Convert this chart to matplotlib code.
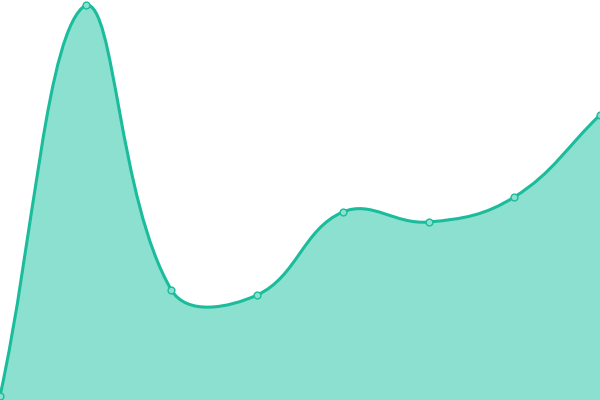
import numpy as np
import matplotlib
matplotlib.use("Agg")
import matplotlib.pyplot as plt
from matplotlib.path import Path
from matplotlib.patches import PathPatch
from matplotlib.transforms import IdentityTransform

LINE_COLOR = "#1abc9c"
FILL_COLOR = "#8be0cf"
TENSION = 0.4

x_vals = [0, 1, 2, 3, 4, 5, 6, 7]
y_vals = [4, 395, 110, 105, 188, 178, 203, 285]

fig = plt.figure(figsize=(6, 4), dpi=100)
ax = fig.add_axes([0, 0, 1, 1])
ax.set_xlim(0, 7)
ax.set_ylim(0, 400)
ax.axis("off")

# points in display (pixel) coords
pts = ax.transData.transform(np.column_stack([x_vals, y_vals]))
bbox = ax.bbox


# control points like chart.js splineCurve
def spline_ctrl(prev, cur, nxt, t):
    d01 = np.hypot(*(cur - prev))
    d12 = np.hypot(*(nxt - cur))
    s01 = d01 / (d01 + d12) if d01 + d12 else 0
    s12 = d12 / (d01 + d12) if d01 + d12 else 0
    fa = t * s01
    fb = t * s12
    return cur - fa * (nxt - prev), cur + fb * (nxt - prev)


n = len(pts)
ctrl_prev = []
ctrl_next = []
for i in range(n):
    prev = pts[max(i - 1, 0)]
    nxt = pts[min(i + 1, n - 1)]
    cp, cn = spline_ctrl(prev, pts[i], nxt, TENSION)
    # keep control points inside chart area
    cp = np.array([np.clip(cp[0], bbox.x0, bbox.x1), np.clip(cp[1], bbox.y0, bbox.y1)])
    cn = np.array([np.clip(cn[0], bbox.x0, bbox.x1), np.clip(cn[1], bbox.y0, bbox.y1)])
    ctrl_prev.append(cp)
    ctrl_next.append(cn)

verts = [pts[0]]
codes = [Path.MOVETO]
for i in range(n - 1):
    verts += [ctrl_next[i], ctrl_prev[i + 1], pts[i + 1]]
    codes += [Path.CURVE4] * 3

line_path = Path(verts, codes)

base = ax.transData.transform([[x_vals[-1], 0], [x_vals[0], 0]])
fill_verts = verts + [base[0], base[1], pts[0]]
fill_codes = codes + [Path.LINETO, Path.LINETO, Path.CLOSEPOLY]
fill_path = Path(fill_verts, fill_codes)

ax.add_patch(PathPatch(fill_path, facecolor=FILL_COLOR, edgecolor="none",
                       transform=IdentityTransform()))
ax.add_patch(PathPatch(line_path, facecolor="none", edgecolor=LINE_COLOR,
                       linewidth=2.2, transform=IdentityTransform(),
                       capstyle="round", joinstyle="round"))

ax.scatter(x_vals, y_vals, s=24, facecolor=FILL_COLOR, edgecolor=LINE_COLOR,
           linewidth=1.0, zorder=5, clip_on=True)

fig.savefig("out.png", dpi=100)
